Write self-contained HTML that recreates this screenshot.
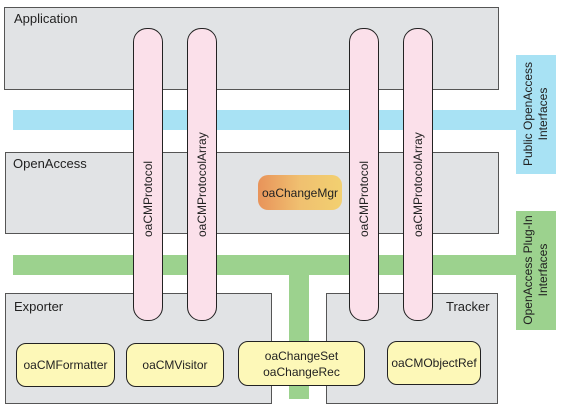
<!DOCTYPE html>
<html><head><style>
body{margin:0;width:566px;height:409px;background:#fff;position:relative;overflow:hidden;font-family:"Liberation Sans",sans-serif;}
div{position:absolute;box-sizing:border-box;}
.box{background:#e1e3e5;border:1.5px solid #555;}
.lbl{font-size:13px;color:#222;}
.pill{background:#fbe0ea;border:1px solid #222;border-radius:14px;}
.ptxt{font-size:12px;color:#222;transform:rotate(-90deg);transform-origin:0 0;white-space:nowrap;}
.y{background:#fdf8b8;border:1px solid #222;border-radius:10px;font-size:12px;color:#222;display:flex;align-items:center;justify-content:center;text-align:center;line-height:16px;}
.vl{font-size:12px;color:#222;transform:rotate(-90deg);transform-origin:0 0;white-space:nowrap;text-align:center;line-height:15px;}
</style></head><body>
<div class="box" style="left:4px;top:7px;width:495px;height:83px"></div>
<div class="lbl" style="left:14px;top:11px">Application</div>
<div style="left:13px;top:110px;width:504px;height:20px;background:#a8e2f4"></div>
<div style="left:516px;top:55px;width:40px;height:119px;background:#a8e2f4"></div>
<div class="vl" style="left:521px;top:168px;width:108px">Public OpenAccess<br>Interfaces</div>
<div class="box" style="left:5px;top:152px;width:494px;height:82px"></div>
<div class="lbl" style="left:13px;top:156px">OpenAccess</div>
<div style="left:13px;top:255px;width:504px;height:20px;background:#9cd28e"></div>
<div style="left:516px;top:211px;width:40px;height:119px;background:#9cd28e"></div>
<div class="vl" style="left:521px;top:325px;width:110px">OpenAccess Plug-In<br>Interfaces</div>
<div class="box" style="left:5px;top:293px;width:267px;height:111px"></div>
<div class="lbl" style="left:14px;top:299px">Exporter</div>
<div class="box" style="left:326px;top:293px;width:172px;height:111px"></div>
<div class="lbl" style="left:446px;top:299px">Tracker</div>
<div style="left:289px;top:275px;width:20px;height:124px;background:#9cd28e"></div>
<div class="pill" style="left:133px;top:28px;width:30px;height:293px"></div>
<div class="pill" style="left:187px;top:28px;width:30px;height:293px"></div>
<div class="pill" style="left:349px;top:28px;width:30px;height:293px"></div>
<div class="pill" style="left:403px;top:28px;width:30px;height:293px"></div>
<div class="ptxt" style="left:141px;top:237px">oaCMProtocol</div>
<div class="ptxt" style="left:195px;top:237px">oaCMProtocolArray</div>
<div class="ptxt" style="left:357px;top:237px">oaCMProtocol</div>
<div class="ptxt" style="left:411px;top:237px">oaCMProtocolArray</div>
<div style="left:258px;top:175px;width:84px;height:35px;border-radius:10px;background:linear-gradient(90deg,#e8935a,#f0c070 50%,#f2d070);font-size:12px;color:#222;display:flex;align-items:center;justify-content:center">oaChangeMgr</div>
<div class="y" style="left:16px;top:343px;width:99px;height:44px">oaCMFormatter</div>
<div class="y" style="left:126px;top:343px;width:98px;height:44px">oaCMVisitor</div>
<div class="y" style="left:238px;top:341px;width:127px;height:45px">oaChangeSet<br>oaChangeRec</div>
<div class="y" style="left:387px;top:341px;width:94px;height:44px">oaCMObjectRef</div>
</body></html>
